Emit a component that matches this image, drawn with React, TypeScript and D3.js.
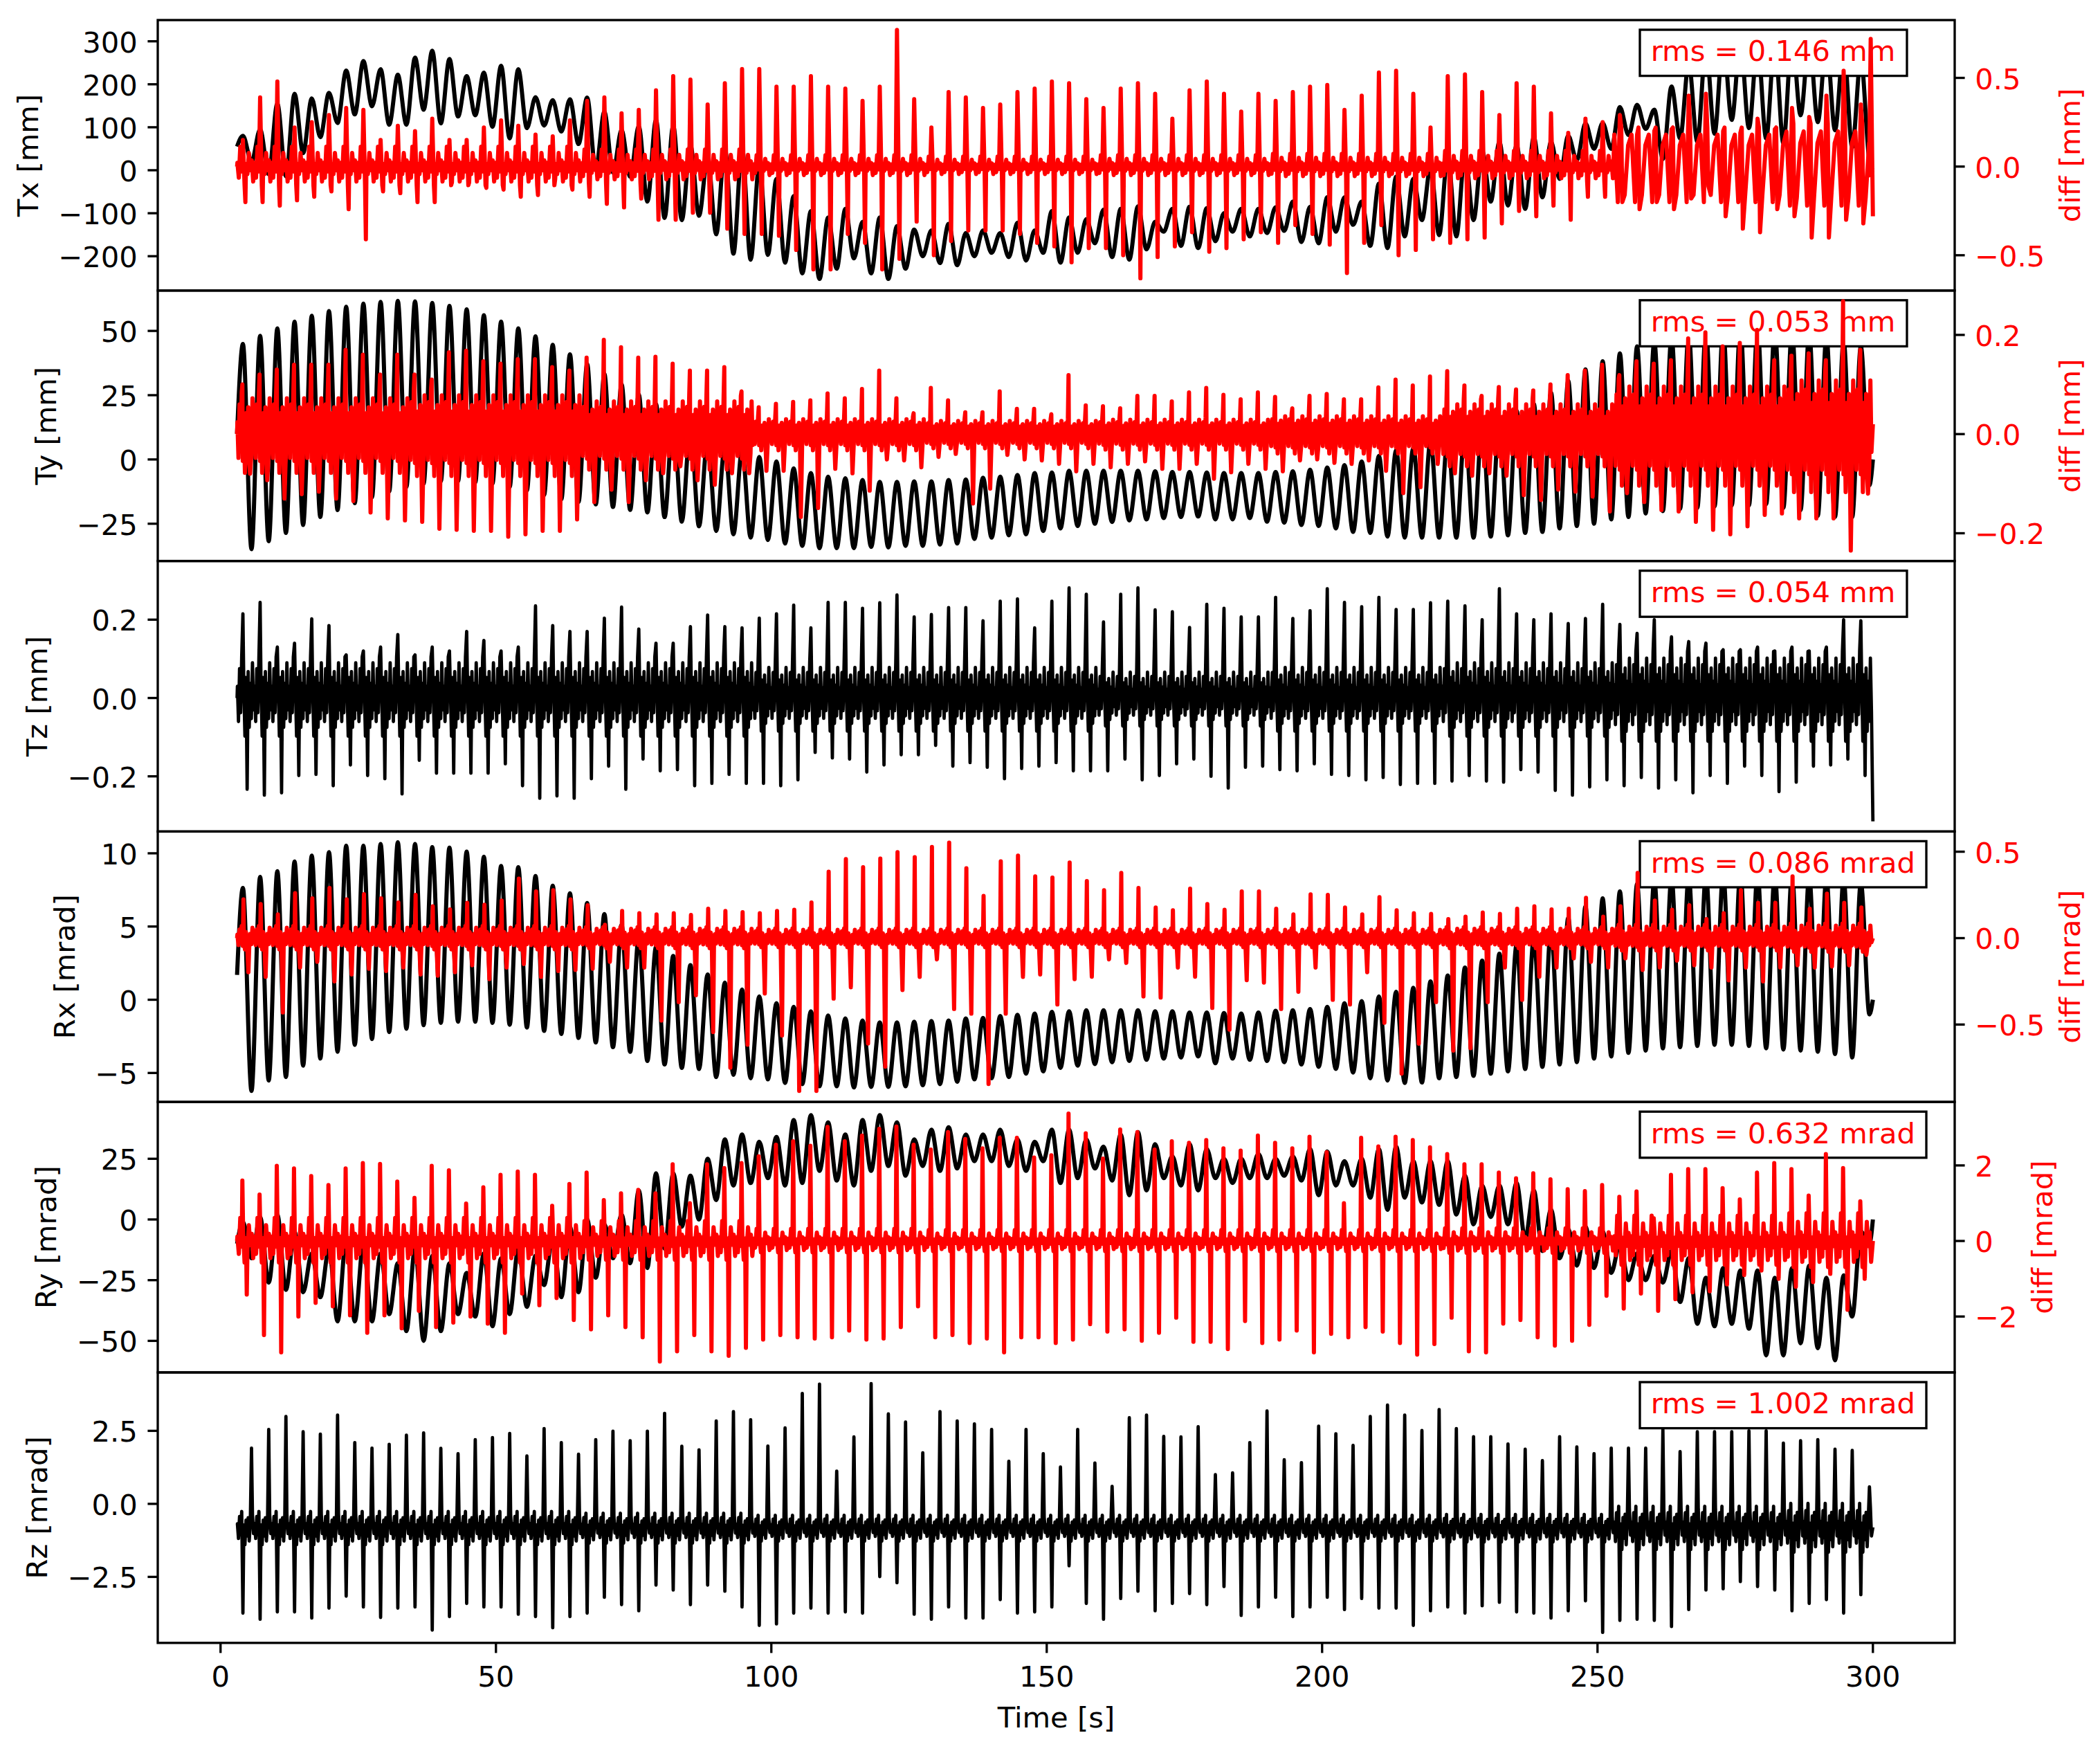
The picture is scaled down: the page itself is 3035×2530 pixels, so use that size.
import React from "react";
import * as d3 from "d3";

// ---------------- layout ----------------
const WIDTH = 3035;
const HEIGHT = 2530;
const AX_LEFT = 228;
const AX_RIGHT = 2825;
const AX_TOP = 29;
const PANEL_H = 390.8;
const FS = 41.67;
const TICK = 14.6;
const PAD = 14.6;
const LW_AX = 3.33;
const RED = "#ff0000";
const FONT = "'DejaVu Sans', 'Liberation Sans', sans-serif";

// ---------------- time base ----------------
const T_START = 3;
const T_END = 300;
const PERIOD = 3.125;
const PEAK_T0 = 4.06;
const TROUGH_T0 = 5.62;
const X_DOMAIN: [number, number] = [-11.4, 314.85];
const xTicks = [0, 50, 100, 150, 200, 250, 300];

// ---------------- data: per-cycle peaks / troughs ----------------
const txPeak = [
  80, 95, 155, 178, 167, 180, 232, 254, 235, 222,
  262, 278, 259, 219, 227, 243, 235, 170, 163, 165,
  169, 136, 93, 102, 117, 104, 58, 29, 51, 51,
  12, -20, -60, -95, -110, -90, -120, -110, -130, -138,
  -140, -125, -146, -140, -146, -122, -140, -95, -110, -114,
  -92, -90, -84, -120, -90, -85, -88, -100, -90, -90,
  -86, -73, -85, -63, -63, -73, -31, -15, -20, 7,
  34, 39, 45, 66, 58, 77, 66, 80, 109, 110,
  147, 152, 141, 195, 250, 290, 305, 300, 295, 300,
  310, 305, 300, 290, 260,
];
const txTrough = [
  20, -9, -14, 40, 77, 110, 130, 149, 106, 106,
  141, 109, 125, 128, 101, 74, 98, 104, 90, 61,
  2, -5, -15, -73, -111, -116, -106, -149, -194, -208,
  -197, -215, -240, -253, -229, -205, -240, -253, -229, -200,
  -216, -221, -200, -192, -202, -210, -192, -215, -192, -170,
  -202, -208, -184, -143, -176, -181, -165, -143, -154, -146,
  -141, -167, -170, -143, -127, -176, -181, -154, -116, -151,
  -154, -116, -73, -82, -90, -63, -20, 23, 50, 50,
  82, 96, 26, 74, 66, 85, 117, 98, 74, 63,
  128, 112, 93, 53, 20,
];
const tyPeak = [
  44.9, 48.1, 51.0, 53.6, 55.9, 57.7, 59.4, 60.6, 61.3, 61.7,
  61.5, 60.9, 59.7, 58.4, 56.1, 53.6, 51.0, 47.9, 44.6, 40.9,
  37.1, 33.3, 29.2, 25.2, 21.5, 17.0, 12.6, 8.0, 5.4, 3.6,
  1.0, -0.8, -3.5, -5.3, -6.7, -7.3, -8.0, -8.7, -8.7, -8.5,
  -8.5, -8.0, -7.8, -7.1, -6.7, -6.0, -5.3, -5.1, -4.4, -4.4,
  -4.4, -4.4, -4.4, -4.6, -4.9, -4.9, -5.1, -5.3, -5.3, -5.3,
  -4.9, -4.6, -4.0, -3.1, -2.2, -0.8, 1.4, 3.6, 4.5, 7.2,
  9.0, 12.6, 14.4, 16.2, 18.9, 21.6, 26.0, 30.6, 35.0, 38.2,
  41.3, 44.0, 46.0, 48.0, 49.5, 50.5, 51.0, 51.5, 51.5, 51.0,
  50.5, 49.5, 48.0, 46.5, 44.0,
];
const tyTrough = [
  -34.9, -31.8, -28.6, -25.5, -22.4, -19.7, -17.0, -14.7, -12.5, -10.7,
  -9.4, -8.5, -8.5, -8.9, -9.4, -10.7, -12.0, -13.8, -15.5, -16.5,
  -17.5, -18.5, -19.6, -20.6, -22.4, -24.2, -26.0, -27.8, -29.1, -30.4,
  -31.3, -32.7, -33.6, -34.5, -34.5, -34.5, -34.0, -34.2, -33.6, -33.6,
  -33.1, -32.7, -30.9, -30.4, -29.5, -29.1, -27.8, -26.8, -25.9, -25.0,
  -24.3, -23.7, -23.3, -22.8, -22.4, -22.2, -23.3, -23.3, -22.8, -24.2,
  -24.6, -25.5, -25.9, -26.8, -28.2, -28.6, -30.0, -30.4, -30.4, -30.4,
  -30.4, -30.4, -30.0, -29.5, -28.6, -28.2, -26.8, -25.9, -25.0, -23.3,
  -22.4, -21.0, -20.1, -19.2, -18.8, -18.3, -17.9, -17.9, -17.4, -18.8,
  -19.7, -21.9, -22.4, -22.4, -10.0,
];
const rxPeak = [
  7.63, 8.39, 8.78, 9.44, 9.84, 10.08, 10.52, 10.52, 10.63, 10.75,
  10.63, 10.42, 10.39, 10.11, 9.76, 9.13, 9.05, 8.45, 7.79, 7.27,
  6.61, 5.85, 5.11, 4.3, 3.6, 2.99, 2.36, 1.73, 1.17, 0.7,
  0.23, -0.24, -0.48, -0.79, -1.08, -1.27, -1.42, -1.55, -1.55, -1.5,
  -1.45, -1.42, -1.27, -1.24, -1.11, -1.03, -0.95, -0.83, -0.79, -0.72,
  -0.72, -0.72, -0.72, -0.79, -0.79, -0.87, -0.87, -0.91, -0.95, -0.87,
  -0.76, -0.72, -0.64, -0.48, -0.24, -0.09, 0.23, 0.54, 0.81, 1.25,
  1.65, 2.2, 2.67, 3.14, 3.77, 4.25, 4.88, 5.59, 6.37, 6.92,
  7.4, 7.9, 8.2, 8.4, 8.5, 8.6, 8.7, 8.7, 8.7, 8.6,
  8.6, 8.5, 8.4, 8.3, 8.0,
];
const rxTrough = [
  -6.23, -5.52, -5.28, -4.5, -4.02, -3.55, -3.08, -2.68, -2.21, -1.98,
  -1.74, -1.58, -1.5, -1.5, -1.58, -1.71, -1.9, -2.13, -2.34, -2.61,
  -2.92, -3.24, -3.55, -4.18, -4.42, -4.65, -4.73, -5.28, -5.13, -5.36,
  -5.44, -5.68, -5.76, -5.91, -5.91, -5.99, -5.95, -5.95, -5.91, -5.84,
  -5.76, -5.6, -5.44, -5.36, -5.28, -5.05, -4.89, -4.65, -4.5, -4.39,
  -4.26, -4.18, -4.1, -4.02, -3.94, -3.87, -4.34, -4.02, -4.1, -4.18,
  -4.26, -4.42, -4.58, -4.73, -4.97, -5.36, -5.52, -5.68, -5.65, -5.36,
  -5.28, -5.2, -5.05, -4.89, -4.73, -4.58, -4.42, -4.26, -4.02, -3.87,
  -3.63, -3.47, -3.32, -3.24, -3.16, -3.08, -3.08, -3.16, -3.32, -3.4,
  -3.47, -3.55, -3.71, -3.94, -1.0,
];
const ryPeak = [
  -1, 1, 2, -5, -14, -12, -8, -10, -14, -18,
  -12, -15, -18, -22, -14, -16, -12, -15, -7, -3,
  0, -2, 2, 12, 19, 19, 18, 25, 33, 35,
  32, 34, 41, 43, 40, 35, 41, 43, 40, 33,
  37, 38, 35, 35, 37, 33, 32, 37, 37, 33,
  30, 35, 36, 31, 26, 31, 29, 25, 25, 27,
  25, 26, 29, 28, 24, 25, 29, 30, 24, 24,
  24, 18, 14, 14, 15, 12, 4, -4, -3, -5,
  -10, -14, -15, -13, -16, -24, -20, -21, -21, -24,
  -20, -19, -24, -23, -5,
];
const ryTrough = [
  -16, -26, -29, -30, -32, -42, -42, -42, -39, -46,
  -50, -46, -39, -40, -44, -39, -36, -27, -32, -30,
  -24, -16, -18, -20, -12, -3, 0, 8, 14, 15,
  17, 14, 15, 20, 16, 14, 20, 22, 18, 22,
  20, 21, 24, 24, 22, 20, 24, 15, 17, 21,
  16, 10, 12, 17, 14, 12, 17, 15, 17, 17,
  18, 16, 10, 14, 14, 9, 4, 9, 7, 6,
  2, -2, 1, -2, -8, -13, -16, -19, -20, -22,
  -25, -25, -26, -34, -43, -44, -43, -45, -56, -56,
  -51, -53, -58, -40, -10,
];

// ---------------- data: per-cycle spikes (up / down) and noise band ----------------
const tzUp = [
  0.215, 0.244, 0.13, 0.14, 0.202, 0.185, 0.11, 0.12, 0.13, 0.162,
  0.11, 0.13, 0.12, 0.17, 0.147, 0.12, 0.13, 0.235, 0.185, 0.17,
  0.17, 0.204, 0.232, 0.176, 0.14, 0.14, 0.182, 0.212, 0.182, 0.179,
  0.204, 0.215, 0.237, 0.179, 0.244, 0.244, 0.229, 0.243, 0.263, 0.207,
  0.213, 0.231, 0.231, 0.197, 0.247, 0.253, 0.179, 0.247, 0.281, 0.265,
  0.194, 0.265, 0.281, 0.225, 0.22, 0.18, 0.239, 0.229, 0.207, 0.207,
  0.257, 0.203, 0.223, 0.279, 0.244, 0.233, 0.257, 0.226, 0.226, 0.243,
  0.247, 0.235, 0.2, 0.279, 0.215, 0.2, 0.215, 0.19, 0.203, 0.239,
  0.188, 0.165, 0.2, 0.156, 0.144, 0.14, 0.123, 0.123, 0.13, 0.12,
  0.13, 0.12, 0.13, 0.2, 0.197,
];
const tzDn = [
  -0.233, -0.248, -0.242, -0.198, -0.195, -0.224, -0.171, -0.198, -0.206, -0.245,
  -0.159, -0.192, -0.192, -0.192, -0.192, -0.168, -0.224, -0.256, -0.25, -0.256,
  -0.206, -0.174, -0.233, -0.156, -0.186, -0.183, -0.224, -0.218, -0.195, -0.218,
  -0.218, -0.224, -0.209, -0.139, -0.153, -0.156, -0.189, -0.171, -0.145, -0.145,
  -0.121, -0.174, -0.165, -0.177, -0.206, -0.18, -0.174, -0.165, -0.186, -0.186,
  -0.186, -0.156, -0.209, -0.198, -0.168, -0.156, -0.2, -0.23, -0.177, -0.174,
  -0.183, -0.186, -0.168, -0.195, -0.198, -0.209, -0.203, -0.221, -0.218, -0.218,
  -0.212, -0.198, -0.212, -0.215, -0.183, -0.189, -0.236, -0.248, -0.227, -0.209,
  -0.224, -0.203, -0.23, -0.209, -0.242, -0.198, -0.218, -0.174, -0.198, -0.239,
  -0.215, -0.174, -0.171, -0.156, -0.198,
];
const tzBand = [0.075, 0.075, 0.075, 0.065, 0.065, 0.055, 0.065, 0.075, 0.085, 0.085];

const rzUp = [
  1.91, 2.55, 2.99, 2.47, 2.39, 3.04, 2.1, 1.91, 2.04, 2.35,
  2.43, 1.9, 1.72, 2.2, 2.27, 2.41, 1.64, 2.58, 2.1, 1.7,
  2.2, 2.49, 2.16, 2.49, 3.1, 1.97, 1.85, 2.84, 3.16, 2.88,
  1.98, 2.6, 3.78, 4.1, 1.12, 2.29, 4.12, 3.08, 2.8, 1.75,
  3.16, 2.84, 2.74, 2.55, 1.46, 2.55, 1.72, 1.26, 2.55, 1.4,
  0.6, 2.95, 3.04, 2.31, 2.29, 2.64, 1.0, 1.06, 2.1, 3.18,
  1.51, 1.41, 2.66, 2.4, 2.0, 2.99, 3.38, 3.04, 2.51, 3.23,
  2.58, 2.3, 2.3, 2.05, 1.87, 1.48, 2.3, 1.95, 1.72, 1.91,
  1.91, 1.91, 2.54, 1.79, 2.47, 2.47, 2.47, 2.5, 2.5, 2.08,
  2.16, 2.2, 1.87, 1.83, 0.58,
];
const rzDn = [
  -3.74, -3.95, -3.7, -3.7, -3.91, -3.57, -3.16, -3.53, -3.89, -3.57,
  -3.53, -4.32, -3.86, -3.41, -3.53, -3.53, -3.78, -3.86, -4.24, -3.86,
  -3.74, -3.2, -3.45, -3.66, -2.78, -2.95, -3.45, -2.78, -2.99, -3.53,
  -4.16, -4.11, -3.74, -3.57, -3.74, -3.7, -3.74, -2.49, -2.7, -3.78,
  -3.95, -3.53, -3.91, -3.91, -3.28, -3.74, -3.7, -3.53, -2.12, -3.41,
  -3.95, -3.24, -2.99, -3.66, -3.41, -3.07, -3.45, -2.83, -3.82, -3.53,
  -3.2, -3.86, -3.53, -3.2, -3.62, -3.24, -3.57, -3.57, -4.16, -3.66,
  -3.53, -3.74, -3.49, -3.37, -3.7, -3.74, -3.91, -3.66, -3.32, -4.4,
  -3.99, -3.95, -3.99, -4.2, -3.62, -2.95, -2.91, -2.66, -2.83, -2.95,
  -3.66, -3.41, -3.28, -3.74, -3.11,
];
const rzBand = [0.42, 0.42, 0.38, 0.33, 0.33, 0.33, 0.33, 0.35, 0.55, 0.62];
const RZ_LEVEL = -0.85;

const txDiffUp = [
  0.15, 0.39, 0.48, 0.22, 0.25, 0.29, 0.33, 0.32, 0.15, 0.23,
  0.2, 0.27, 0.15, 0.15, 0.22, 0.26, 0.23, 0.18, 0.17, 0.26,
  0.37, 0.39, 0.3, 0.32, 0.43, 0.51, 0.49, 0.35, 0.47, 0.55,
  0.55, 0.45, 0.45, 0.51, 0.45, 0.44, 0.37, 0.45, 0.77, 0.38,
  0.22, 0.42, 0.39, 0.33, 0.35, 0.42, 0.44, 0.48, 0.47, 0.38,
  0.33, 0.44, 0.47, 0.41, 0.27, 0.43, 0.48, 0.41, 0.31, 0.41,
  0.37, 0.42, 0.45, 0.46, 0.32, 0.4, 0.53, 0.54, 0.41, 0.22,
  0.51, 0.52, 0.42, 0.29, 0.47, 0.45, 0.3, 0.19, 0.27, 0.25,
  0.29, 0.18, 0.2, 0.21, 0.4, 0.41, 0.2, 0.19, 0.27, 0.21,
  0.33, 0.28, 0.4, 0.54, 0.35,
];
const txDiffDn = [
  -0.2, -0.2, -0.22, -0.19, -0.17, -0.14, -0.24, -0.41, -0.14, -0.15,
  -0.2, -0.2, -0.09, -0.09, -0.12, -0.13, -0.17, -0.16, -0.07, -0.13,
  -0.17, -0.21, -0.23, -0.18, -0.3, -0.3, -0.26, -0.26, -0.35, -0.38,
  -0.38, -0.39, -0.47, -0.58, -0.58, -0.38, -0.43, -0.58, -0.52, -0.31,
  -0.5, -0.42, -0.36, -0.36, -0.36, -0.38, -0.43, -0.45, -0.54, -0.46,
  -0.46, -0.5, -0.63, -0.51, -0.45, -0.37, -0.48, -0.46, -0.41, -0.37,
  -0.43, -0.33, -0.38, -0.44, -0.6, -0.43, -0.33, -0.5, -0.47, -0.41,
  -0.43, -0.41, -0.4, -0.32, -0.25, -0.28, -0.22, -0.3, -0.17, -0.17,
  -0.2, -0.24, -0.2, -0.24, -0.18, -0.11, -0.28, -0.35, -0.37, -0.24,
  -0.28, -0.4, -0.4, -0.3, -0.32,
];
const txDiffBand = [0.07, 0.07, 0.06, 0.04, 0.035, 0.04, 0.045, 0.055, 0.2, 0.22];
const txDiffTail: [number, number][] = [[299.3, -0.05], [299.6, 0.72], [300, -0.28]];

const tyDiffUp = [
  0.1, 0.12, 0.13, 0.14, 0.14, 0.14, 0.17, 0.16, 0.12, 0.16,
  0.12, 0.11, 0.165, 0.168, 0.147, 0.142, 0.151, 0.151, 0.135, 0.128,
  0.154, 0.19, 0.175, 0.154, 0.156, 0.142, 0.128, 0.128, 0.135, 0.086,
  0.054, 0.061, 0.065, 0.068, 0.082, 0.072, 0.091, 0.128, 0.072, 0.042,
  0.093, 0.068, 0.044, 0.044, 0.086, 0.051, 0.051, 0.04, 0.119, 0.058,
  0.056, 0.052, 0.077, 0.077, 0.066, 0.084, 0.093, 0.079, 0.07, 0.084,
  0.075, 0.052, 0.077, 0.081, 0.07, 0.07, 0.094, 0.11, 0.098, 0.116,
  0.127, 0.098, 0.077, 0.095, 0.09, 0.088, 0.1, 0.119, 0.128, 0.14,
  0.119, 0.147, 0.142, 0.149, 0.193, 0.205, 0.177, 0.184, 0.21, 0.149,
  0.158, 0.163, 0.149, 0.268, 0.17,
];
const tyDiffDn = [
  -0.08, -0.093, -0.13, -0.121, -0.116, -0.13, -0.135, -0.158, -0.17, -0.174,
  -0.177, -0.191, -0.193, -0.195, -0.195, -0.207, -0.202, -0.195, -0.195, -0.172,
  -0.137, -0.112, -0.137, -0.093, -0.079, -0.065, -0.093, -0.102, -0.079, -0.079,
  -0.074, -0.074, -0.167, -0.149, -0.07, -0.079, -0.114, -0.051, -0.053, -0.067,
  -0.046, -0.04, -0.14, -0.11, -0.042, -0.051, -0.053, -0.06, -0.075, -0.06,
  -0.067, -0.06, -0.055, -0.07, -0.07, -0.06, -0.09, -0.077, -0.06, -0.07,
  -0.075, -0.053, -0.051, -0.058, -0.06, -0.053, -0.074, -0.119, -0.107, -0.06,
  -0.079, -0.084, -0.079, -0.084, -0.123, -0.133, -0.112, -0.116, -0.126, -0.156,
  -0.119, -0.137, -0.153, -0.156, -0.177, -0.193, -0.202, -0.186, -0.163, -0.16,
  -0.17, -0.17, -0.17, -0.235, -0.12,
];
const tyDiffBand = [0.06, 0.065, 0.055, 0.025, 0.022, 0.024, 0.03, 0.05, 0.08, 0.09];

const rxDiffUp = [
  0.224, 0.197, 0.137, 0.26, 0.23, 0.29, 0.224, 0.254, 0.23, 0.206,
  0.25, 0.184, 0.166, 0.204, 0.193, 0.217, 0.344, 0.27, 0.277, 0.224,
  0.19, 0.077, 0.157, 0.144, 0.137, 0.144, 0.134, 0.17, 0.157, 0.15,
  0.144, 0.157, 0.164, 0.206, 0.384, 0.457, 0.41, 0.46, 0.497, 0.468,
  0.527, 0.553, 0.404, 0.244, 0.444, 0.477, 0.357, 0.35, 0.437, 0.33,
  0.277, 0.377, 0.29, 0.177, 0.161, 0.286, 0.197, 0.164, 0.27, 0.27,
  0.17, 0.137, 0.253, 0.25, 0.177, 0.137, 0.237, 0.161, 0.144, 0.14,
  0.11, 0.124, 0.148, 0.14, 0.17, 0.184, 0.166, 0.17, 0.233, 0.124,
  0.184, 0.377, 0.217, 0.164, 0.19, 0.11, 0.144, 0.277, 0.204, 0.204,
  0.357, 0.17, 0.257, 0.204, 0.177,
];
const rxDiffDn = [
  -0.197, -0.224, -0.43, -0.17, -0.137, -0.25, -0.21, -0.177, -0.19, -0.17,
  -0.21, -0.217, -0.197, -0.157, -0.237, -0.17, -0.15, -0.224, -0.19, -0.184,
  -0.177, -0.137, -0.17, -0.17, -0.477, -0.37, -0.33, -0.544, -0.75, -0.617,
  -0.32, -0.564, -0.884, -0.884, -0.35, -0.284, -0.61, -0.744, -0.3, -0.224,
  -0.123, -0.41, -0.437, -0.844, -0.437, -0.224, -0.21, -0.384, -0.237, -0.223,
  -0.123, -0.143, -0.337, -0.344, -0.17, -0.223, -0.404, -0.53, -0.243, -0.257,
  -0.41, -0.31, -0.17, -0.357, -0.384, -0.197, -0.49, -0.784, -0.611, -0.37,
  -0.651, -0.637, -0.37, -0.17, -0.357, -0.223, -0.17, -0.117, -0.137, -0.17,
  -0.117, -0.184, -0.17, -0.13, -0.157, -0.17, -0.244, -0.17, -0.25, -0.17,
  -0.157, -0.17, -0.164, -0.157, -0.097,
];
const rxDiffBand = [0.05, 0.05, 0.045, 0.04, 0.04, 0.04, 0.04, 0.045, 0.055, 0.06];

const ryDiffUp = [
  1.6, 1.23, 1.99, 1.92, 1.72, 1.48, 1.92, 2.06, 2.04, 1.57,
  1.14, 1.99, 1.87, 0.99, 1.42, 1.75, 1.84, 1.75, 0.93, 1.51,
  1.81, 1.08, 1.26, 1.35, 1.26, 2.03, 1.0, 2.03, 1.93, 2.06,
  2.24, 2.55, 2.64, 2.52, 3.02, 2.64, 2.79, 2.97, 3.03, 2.55,
  2.42, 2.88, 2.7, 2.45, 2.73, 2.73, 2.21, 2.27, 3.37, 2.85,
  2.18, 2.95, 2.88, 2.42, 2.64, 2.6, 2.67, 2.45, 2.39, 2.79,
  2.6, 2.45, 2.76, 2.35, 1.0, 2.73, 2.5, 2.76, 2.67, 2.48,
  2.3, 2.03, 2.03, 1.81, 1.66, 1.79, 1.63, 1.37, 1.32, 1.48,
  1.17, 1.31, 0.6, 1.75, 1.9, 1.9, 1.4, 1.1, 1.81, 2.06,
  1.9, 1.2, 2.3, 1.93, 1.05,
];
const ryDiffDn = [
  -1.42, -2.49, -2.95, -2.0, -1.64, -1.73, -1.97, -2.43, -1.97, -2.31,
  -1.85, -2.28, -2.16, -2.0, -2.19, -2.43, -1.39, -1.7, -1.51, -2.09,
  -2.34, -1.97, -2.28, -2.55, -3.19, -2.92, -2.49, -2.92, -3.04, -2.83,
  -2.61, -2.49, -2.55, -2.58, -2.55, -2.37, -2.61, -2.58, -2.28, -1.73,
  -2.55, -2.49, -2.7, -2.58, -2.95, -2.55, -2.55, -2.7, -2.61, -2.2,
  -2.4, -2.34, -2.64, -2.43, -2.03, -2.67, -2.67, -2.86, -2.12, -2.7,
  -2.61, -2.37, -2.95, -2.46, -2.55, -2.28, -2.4, -2.7, -3.01, -2.73,
  -2.03, -2.92, -2.95, -2.19, -2.09, -2.55, -2.77, -2.64, -2.22, -1.45,
  -1.79, -1.39, -1.85, -1.54, -1.36, -1.33, -1.15, -0.9, -0.78, -1.0,
  -1.21, -1.09, -0.87, -1.82, -1.0,
];
const ryDiffBand = [0.38, 0.38, 0.33, 0.2, 0.18, 0.18, 0.18, 0.21, 0.42, 0.46];

// shapes of the noise inside one cycle (relative to the band amplitude)
const DENSE_WIGGLE = [0.4, -0.8, 1.0, -0.5, 1.4, -0.9, 0.3, -1.3, 0.7, -0.6, 0.9, -1.0, 0.5, -0.7, 1.2, -0.4];
const OPEN_WIGGLE = [0.3, -0.9, 1.6, -0.4, 0.6, -1.5, 0.2, -0.6, 1.1, -0.3, 0.5, -1.2];
const COARSE_WIGGLE = [0.9, -1.0, 1.1, -0.8, 0.6];

type Pt = [number, number];

function smoothSeries(start: number, peaks: number[], troughs: number[], end: number): Pt[] {
  const pts: Pt[] = [[T_START, start]];
  peaks.forEach((p, k) => {
    const tp = PEAK_T0 + k * PERIOD;
    if (tp < T_END) pts.push([tp, p]);
    const tt = TROUGH_T0 + k * PERIOD;
    if (tt < T_END - 0.3) pts.push([tt, troughs[k]]);
  });
  pts.push([T_END, end]);
  return pts;
}

function spikySeries(
  up: number[], dn: number[], band: number[], level: number,
  upAt: number, dnAt: number, start: number, tail: Pt[],
  wiggle: number[], coarseFrom = Infinity
): Pt[] {
  const pts: Pt[] = [[T_START, start]];
  for (let k = 0; k < up.length; k++) {
    const shape = k >= coarseFrom ? COARSE_WIGGLE : wiggle;
    const n = shape.length;
    const c0 = PEAK_T0 - 1 + k * PERIOD;
    const b = band[Math.min(band.length - 1, Math.floor(k / 10))];
    const tu = c0 + upAt;
    const td = c0 + dnAt;
    const cyc: Pt[] = shape.map((w, j) => [c0 + (j * PERIOD) / n, level + w * b] as Pt)
      .filter(([t]) => Math.abs(t - tu) > 0.07 && Math.abs(t - td) > 0.07);
    cyc.push([tu, up[k]], [td, dn[k]]);
    cyc.sort((a, c) => a[0] - c[0]);
    for (const p of cyc) if (p[0] > T_START && p[0] < T_END - 0.05) pts.push(p);
  }
  return pts.concat(tail);
}

// ---------------- text helpers ----------------
const CHAR_EM: Record<string, number> = { "\u2212": 0.838, ".": 0.318 };
const textW = (s: string) => [...s].reduce((a, c) => a + (CHAR_EM[c] ?? 0.636), 0) * FS;
const fmt = (dec: number) => (v: number) => v.toFixed(dec).replace("-", "\u2212");

type Twin = { data: Pt[]; domain: [number, number]; ticks: number[]; dec: number; label: string };
type Panel = {
  label: string;
  domain: [number, number];
  ticks: number[];
  dec: number;
  black: Pt[];
  smooth: boolean;
  blackWidth: number;
  twin?: Twin;
  rms: string;
};

const panels: Panel[] = [
  {
    label: "Tx [mm]", domain: [-279.9, 349.4], ticks: [-200, -100, 0, 100, 200, 300], dec: 0,
    black: smoothSeries(55, txPeak, txTrough, 0), smooth: true, blackWidth: 6,
    twin: { data: spikySeries(txDiffUp, txDiffDn, txDiffBand, 0, 1.0, 1.45, 0, txDiffTail, OPEN_WIGGLE, 80),
      domain: [-0.699, 0.826], ticks: [-0.5, 0, 0.5], dec: 1, label: "diff [mm]" },
    rms: "rms = 0.146 mm",
  },
  {
    label: "Ty [mm]", domain: [-39.5, 65.7], ticks: [-25, 0, 25, 50], dec: 0,
    black: smoothSeries(10, tyPeak, tyTrough, 0), smooth: true, blackWidth: 6,
    twin: { data: spikySeries(tyDiffUp, tyDiffDn, tyDiffBand, 0, 0.9, 2.3, 0, [[300, 0.02]], DENSE_WIGGLE),
      domain: [-0.256, 0.2895], ticks: [-0.2, 0, 0.2], dec: 1, label: "diff [mm]" },
    rms: "rms = 0.053 mm",
  },
  {
    label: "Tz [mm]", domain: [-0.3408, 0.3497], ticks: [-0.2, 0, 0.2], dec: 1,
    black: spikySeries(tzUp, tzDn, tzBand, 0, 1.0, 1.77, 0, [[300, -0.315]], DENSE_WIGGLE), smooth: false, blackWidth: 4.8,
    rms: "rms = 0.054 mm",
  },
  {
    label: "Rx [mrad]", domain: [-6.98, 11.49], ticks: [-5, 0, 5, 10], dec: 0,
    black: smoothSeries(1.7, rxPeak, rxTrough, 0), smooth: true, blackWidth: 6,
    twin: { data: spikySeries(rxDiffUp, rxDiffDn, rxDiffBand, 0, 1.1, 2.0, 0, [[300, 0]], DENSE_WIGGLE),
      domain: [-0.948, 0.617], ticks: [-0.5, 0, 0.5], dec: 1, label: "diff [mrad]" },
    rms: "rms = 0.086 mrad",
  },
  {
    label: "Ry [mrad]", domain: [-63.0, 48.4], ticks: [-50, -25, 0, 25], dec: 0,
    black: smoothSeries(-10, ryPeak, ryTrough, 0), smooth: true, blackWidth: 6,
    twin: { data: spikySeries(ryDiffUp, ryDiffDn, ryDiffBand, 0, 0.9, 1.7, 0, [[300, 0]], OPEN_WIGGLE),
      domain: [-3.48, 3.68], ticks: [-2, 0, 2], dec: 0, label: "diff [mrad]" },
    rms: "rms = 0.632 mrad",
  },
  {
    label: "Rz [mrad]", domain: [-4.76, 4.5], ticks: [-2.5, 0, 2.5], dec: 1,
    black: spikySeries(rzUp, rzDn, rzBand, RZ_LEVEL, 2.56, 1.0, -0.7, [[300, -0.8]], DENSE_WIGGLE), smooth: false, blackWidth: 4.8,
    rms: "rms = 1.002 mrad",
  },
];

const x = d3.scaleLinear().domain(X_DOMAIN).range([AX_LEFT, AX_RIGHT]);

function PanelView({ p, i }: { p: Panel; i: number }) {
  const top = AX_TOP + i * PANEL_H;
  const bottom = top + PANEL_H;
  const y = d3.scaleLinear().domain(p.domain).range([bottom, top]);
  const line = d3.line<Pt>().x((d) => x(d[0])).y((d) => y(d[1]))
    .curve(p.smooth ? d3.curveMonotoneX : d3.curveLinear);
  const clipId = `clip${i}`;
  const f = fmt(p.dec);
  const leftLabels = p.ticks.map(f);
  const leftW = Math.max(...leftLabels.map(textW));
  const labelX = AX_LEFT - TICK - PAD - leftW - 29.5;
  const cy = (top + bottom) / 2;
  const isMrad = p.rms.endsWith("mrad");
  const boxW = isMrad ? 414 : 386;
  const boxX = 2370;
  const boxY = top + 14;

  let twinEls: React.ReactNode = null;
  if (p.twin) {
    const tw = p.twin;
    const y2 = d3.scaleLinear().domain(tw.domain).range([bottom, top]);
    const line2 = d3.line<Pt>().x((d) => x(d[0])).y((d) => y2(d[1])).curve(d3.curveLinear);
    const f2 = fmt(tw.dec);
    const rl = tw.ticks.map(f2);
    const rW = Math.max(...rl.map(textW));
    const rLabelX = AX_RIGHT + TICK + PAD + rW + 16.7 + 34;
    twinEls = (
      <g>
        <path d={line2(tw.data) || ""} fill="none" stroke={RED} strokeWidth={6}
          strokeLinejoin="round" clipPath={`url(#${clipId})`} />
        {tw.ticks.map((t, j) => (
          <g key={j}>
            <line x1={AX_RIGHT} x2={AX_RIGHT + TICK} y1={y2(t)} y2={y2(t)} stroke="#000" strokeWidth={LW_AX} />
            <text x={AX_RIGHT + TICK + PAD} y={y2(t) + 16} fill={RED} fontSize={FS} fontFamily={FONT}>{rl[j]}</text>
          </g>
        ))}
        <text transform={`translate(${rLabelX},${cy}) rotate(-90)`} textAnchor="middle"
          fill={RED} fontSize={FS} fontFamily={FONT}>{tw.label}</text>
      </g>
    );
  }

  return (
    <g>
      <defs>
        <clipPath id={clipId}>
          <rect x={AX_LEFT} y={top} width={AX_RIGHT - AX_LEFT} height={PANEL_H} />
        </clipPath>
      </defs>
      <path d={line(p.black) || ""} fill="none" stroke="#000" strokeWidth={p.blackWidth}
        strokeLinejoin="round" clipPath={`url(#${clipId})`} />
      <rect x={boxX} y={boxY} width={boxW} height={66.6} fill="#fff" stroke="#000" strokeWidth={LW_AX} />
      <text x={boxX + 15.7} y={top + 59.3} fill={RED} fontSize={FS} fontFamily={FONT}>{p.rms}</text>
      {twinEls}
      <rect x={AX_LEFT} y={top} width={AX_RIGHT - AX_LEFT} height={PANEL_H} fill="none"
        stroke="#000" strokeWidth={LW_AX} />
      {p.ticks.map((t, j) => (
        <g key={j}>
          <line x1={AX_LEFT - TICK} x2={AX_LEFT} y1={y(t)} y2={y(t)} stroke="#000" strokeWidth={LW_AX} />
          <text x={AX_LEFT - TICK - PAD} y={y(t) + 16} textAnchor="end" fontSize={FS} fontFamily={FONT}>{leftLabels[j]}</text>
        </g>
      ))}
      <text transform={`translate(${labelX},${cy}) rotate(-90)`} textAnchor="middle"
        fontSize={FS} fontFamily={FONT}>{p.label}</text>
    </g>
  );
}

export default function App() {
  const bottom = AX_TOP + panels.length * PANEL_H;
  return (
    <svg width={WIDTH} height={HEIGHT} viewBox={`0 0 ${WIDTH} ${HEIGHT}`}
      style={{ position: "absolute", left: 0, top: 0, background: "#fff" }}>
      <rect x={0} y={0} width={WIDTH} height={HEIGHT} fill="#fff" />
      {panels.map((p, i) => <PanelView key={i} p={p} i={i} />)}
      {xTicks.map((t) => (
        <g key={t}>
          <line x1={x(t)} x2={x(t)} y1={bottom} y2={bottom + TICK} stroke="#000" strokeWidth={LW_AX} />
          <text x={x(t)} y={bottom + 63} textAnchor="middle" fontSize={FS} fontFamily={FONT}>{t}</text>
        </g>
      ))}
      <text x={(AX_LEFT + AX_RIGHT) / 2} y={bottom + 122} textAnchor="middle" fontSize={FS} fontFamily={FONT}>Time [s]</text>
    </svg>
  );
}
